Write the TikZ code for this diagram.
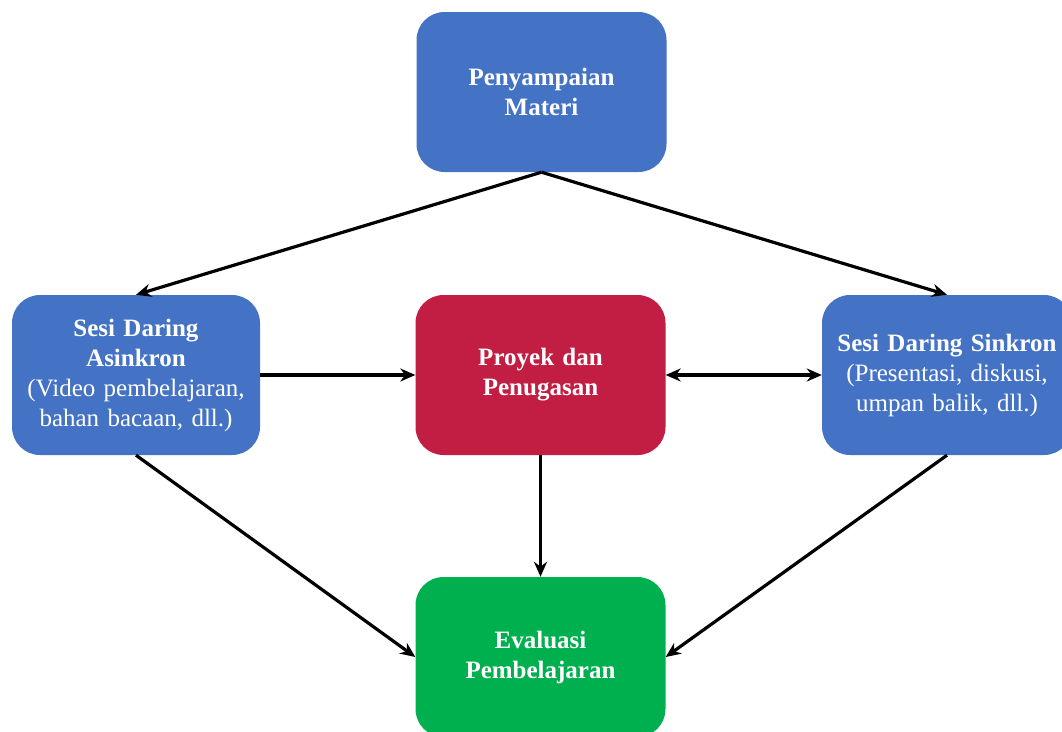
\documentclass[tikz,border=0pt]{standalone}
\usepackage{fontspec}
\setmainfont{Liberation Serif}
\usetikzlibrary{arrows.meta}
\definecolor{boxblue}{HTML}{4472C4}
\definecolor{boxred}{HTML}{C21D42}
\definecolor{boxgreen}{HTML}{00B04F}
\tikzset{
  box/.style={rounded corners=28pt, minimum width=250pt, minimum height=160pt,
    text width=240pt, align=center, text=white, inner sep=0pt,
    font=\fontsize{25}{30}\selectfont},
  conn/.style={line width=3.2pt, -{Stealth[length=15pt,width=13pt]}},
  biconn/.style={line width=3.2pt, {Stealth[length=15pt,width=13pt]}-{Stealth[length=15pt,width=13pt]}}
}
\begin{document}
\begin{tikzpicture}[x=1pt,y=-1pt]
\useasboundingbox (0,0) rectangle (1062,731);
\clip (0,0) rectangle (1062,731);
\node[box, fill=boxblue] (top) at (541.5,92) {\textbf{Penyampaian}\\\textbf{Materi}};
\node[box, fill=boxblue, minimum width=248pt] (left) at (136,375) {\textbf{Sesi Daring}\\\textbf{Asinkron}\\(Video pembelajaran,\\bahan bacaan, dll.)};
\node[box, fill=boxred] (mid) at (540.5,375) {\textbf{Proyek dan}\\\textbf{Penugasan}};
\node[box, fill=boxblue] (right) at (947,375) {\textbf{Sesi Daring Sinkron}\\(Presentasi, diskusi,\\umpan balik, dll.)};
\node[box, fill=boxgreen] (bot) at (540.5,657) {\textbf{Evaluasi}\\\textbf{Pembelajaran}};
\draw[conn] (top.south) -- (left.north);
\draw[conn] (top.south) -- (right.north);
\draw[conn] (left.east) -- (mid.west);
\draw[biconn] (mid.east) -- (right.west);
\draw[conn] (mid.south) -- (bot.north);
\draw[conn] (left.south) -- (bot.west);
\draw[conn] (right.south) -- (bot.east);
\end{tikzpicture}
\end{document}
